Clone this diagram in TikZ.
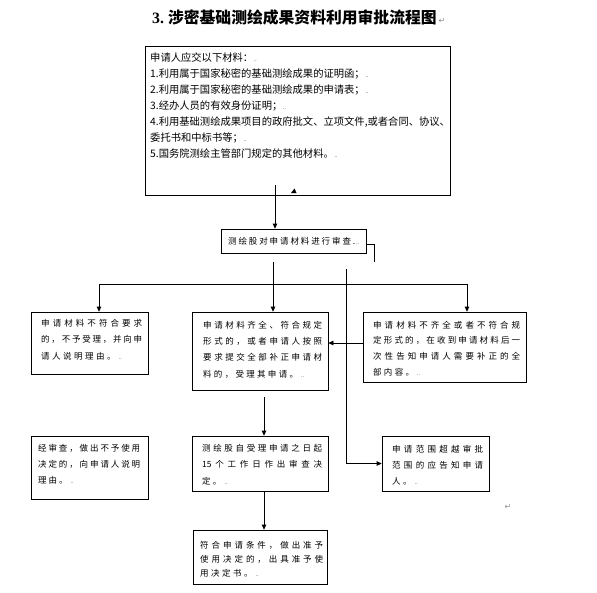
\documentclass[tikz,border=0pt]{standalone}
\usepackage{fontspec}
\newfontfamily\cjk{Noto Sans CJK SC}
\newfontfamily\djv{DejaVu Sans}
\newfontfamily\lser{Liberation Serif}
\usetikzlibrary{arrows.meta}
\newcommand{\parmk}{{\fontsize{5}{5}\selectfont\,..}}
\newcommand{\retmk}{{\djv\mdseries\color{black!45}\fontsize{8}{8}\selectfont ↵}}
\ExplSyntaxOn
\bool_new:N \l_my_first_bool
\cs_new_protected:Npn \jline #1 #2
  {
    \makebox[#1pt][s]
      {
        \bool_set_true:N \l_my_first_bool
        \tl_map_inline:nn {#2}
          {
            \bool_if:NTF \l_my_first_bool
              { \bool_set_false:N \l_my_first_bool }
              { \hfil }
            ##1
          }
      }
  }
\cs_new_protected:Npn \nline #1 #2
  {
    \tl_map_inline:nn {#2} { \makebox[#1pt][l]{##1} }
  }
\ExplSyntaxOff
\begin{document}
\begin{tikzpicture}[x=1pt,y=-1pt,
  boxn/.style={draw,line width=0.8pt,inner sep=0pt},
  txt/.style={anchor=north west,inner sep=0pt,align=left},
  sm/.style={font=\cjk\fontsize{8.5}{#1}\selectfont},
  arr/.style={line width=0.8pt,-{Triangle[length=5pt,width=4.6pt]}},
  ln/.style={line width=0.8pt}]
\useasboundingbox (0,0) rectangle (597,592);
\fill[white] (0,0) rectangle (597,592);

% title
\node[anchor=west,inner sep=0pt,font=\cjk\bfseries\fontsize{15.8}{18}\selectfont] (title) at (152,17)
  {{\lser\bfseries 3.}\hspace{4pt}涉密基础测绘成果资料利用审批流程图\hspace{2pt}\retmk};

% boxes
\node[boxn,minimum width=305,minimum height=149] (b1) at (297.5,120.5) {};
\node[txt,font=\cjk\fontsize{10.3}{16}\selectfont] (t1) at (150,52.5)
  {申请人应交以下材料：\parmk\\
   1.利用属于国家秘密的基础测绘成果的证明函；\parmk\\
   2.利用属于国家秘密的基础测绘成果的申请表；\parmk\\
   3.经办人员的有效身份证明；\parmk\\
   4.利用基础测绘成果项目的政府批文、立项文件,或者合同、协议、\\
   委托书和中标书等；\parmk\\
   5.国务院测绘主管部门规定的其他材料。\parmk};

\node[boxn,minimum width=145,minimum height=24,sm=16] (b2) at (293.5,241)
  {\nline{10.4}{测绘股对申请材料进行审查}.\parmk};

\node[boxn,minimum width=117,minimum height=62] (l1) at (89.5,343) {};
\node[txt,sm=16.5] (tl1) at (41,318.7)
  {\jline{101}{申请材料不符合要求}\\
   \jline{101}{的，不予受理，并向申}\\
   \nline{11}{请人说明理由。}\parmk};

\node[boxn,minimum width=136,minimum height=78] (m1) at (260,351) {};
\node[txt,sm=16.3] (tm1) at (203,320.7)
  {\jline{119}{申请材料齐全、符合规定}\\
   \jline{119}{形式的，或者申请人按照}\\
   \jline{119}{要求提交全部补正申请材}\\
   \nline{10.8}{料的，受理其申请。}\parmk};

\node[boxn,minimum width=163,minimum height=70] (r1) at (444.5,347) {};
\node[txt,sm=15.8] (tr1) at (373,320.7)
  {\jline{147}{申请材料不齐全或者不符合规}\\
   \jline{147}{定形式的，在收到申请材料后一}\\
   \jline{147}{次性告知申请人需要补正的全}\\
   \nline{10.8}{部内容。}\parmk};

\node[boxn,minimum width=117,minimum height=63] (l2) at (89.5,467.5) {};
\node[txt,sm=16] (tl2) at (38,443.7)
  {\jline{102}{经审查，做出不予使用}\\
   \jline{102}{决定的，向申请人说明}\\
   \nline{10.5}{理由。}\parmk};

\node[boxn,minimum width=136,minimum height=55] (m2) at (260,463.5) {};
\node[txt,sm=16.5] (tm2) at (202,443.7)
  {\jline{120}{测绘股自受理申请之日起}\\
   \jline{120}{{15}个工作日作出审查决}\\
   \nline{10.8}{定。}\parmk};

\node[boxn,minimum width=107,minimum height=55] (r2) at (435.5,463.5) {};
\node[txt,sm=16] (tr2) at (392,444.7)
  {\jline{91}{申请范围超越审批}\\
   \jline{91}{范围的应告知申请}\\
   \nline{11}{人。}\parmk};

\node[boxn,minimum width=134,minimum height=54] (m3) at (260,557) {};
\node[txt,sm=14] (tm3) at (200,540.7)
  {\jline{123}{符合申请条件，做出准予}\\
   \jline{123}{使用决定的，出具准予使}\\
   \nline{11}{用决定书。}\parmk};

\node[inner sep=0pt] (ret) at (508,507) {\retmk};

% connectors
\coordinate (c1) at (275,185);
\draw[arr] (c1) -- (c1 |- b2.north);
\fill (291,193) -- (294.5,188.5) -- (296.5,193) -- cycle;

\coordinate (c2) at (273,262);
\coordinate (j) at (273,284);
\coordinate (hl) at (99,284);
\coordinate (hr) at (467,284);
\draw[ln] (c2) -- (j);
\draw[ln] (hl) -- (hr);
\draw[arr] (j) -- (j |- m1.north);
\draw[arr] (hl) -- (hl |- l1.north);
\draw[arr] (hr) -- (hr |- r1.north);

\coordinate (c3) at (374,262);
\draw[ln] ([yshift=-3pt]b2.east) -| (c3);

\coordinate (c4) at (346,269);
\draw[arr] (c4) |- (r2.west);

\draw[arr] ([yshift=4pt]r1.west) -- ([yshift=8pt]m1.east);

\coordinate (c5) at (264,397);
\draw[arr] (c5) -- (c5 |- m2.north);
\draw[arr] (m2.south -| c5) -- (m3.north -| c5);
\end{tikzpicture}
\end{document}
